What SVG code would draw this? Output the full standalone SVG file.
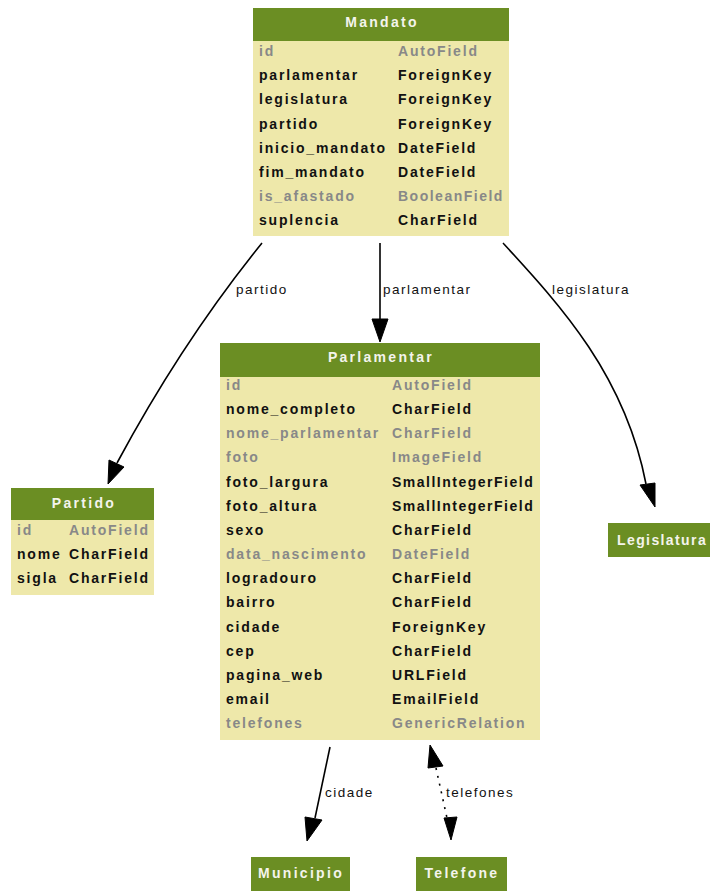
<svg xmlns="http://www.w3.org/2000/svg" width="710" height="891" viewBox="0 0 710 891">
<style>
.body{fill:#EEE8AA}
.hdr{fill:#6B8E23}
.ht{font-family:"Liberation Sans",Arial,sans-serif;font-weight:bold;font-size:14px;fill:#F4F4EC;letter-spacing:2.3px;text-anchor:middle}
.r{font-family:"Liberation Sans",Arial,sans-serif;font-weight:bold;font-size:14px;fill:#111;letter-spacing:1.8px}
.g{fill:#888}
.n{letter-spacing:1.5px}
.el{font-family:"Liberation Sans",Arial,sans-serif;font-size:13.5px;fill:#111;letter-spacing:1.5px}
.e{fill:none;stroke:#000;stroke-width:1.6}
.ah{fill:#000;stroke:#000;stroke-width:1}
</style>
<g id="connectors">
<path class="e" d="M262,243 C228,285 175,355 117,463"/>
<polygon class="ah" points="108,484 109,460 124,467"/>
<text class="el" x="236" y="294">partido</text>
<path class="e" d="M380,243 L380,320"/>
<polygon class="ah" points="380,342 372,319 388,319"/>
<text class="el" x="383" y="294">parlamentar</text>
<path class="e" d="M503,243 C560,305 625,375 646,484"/>
<polygon class="ah" points="655,507 640,485 655,483"/>
<text class="el" x="552" y="294">legislatura</text>
<path class="e" d="M330,747 L315,818"/>
<polygon class="ah" points="307,841 305,817 322,820"/>
<text class="el" x="325" y="797">cidade</text>
<path class="e" d="M436,768 L447,818" stroke-dasharray="2,6"/>
<polygon class="ah" points="430,745 428,768 443,766"/>
<polygon class="ah" points="451,840 444,818 457,817"/>
<text class="el" x="446" y="797">telefones</text>
</g>
<g id="Mandato">
<rect class="body" x="253" y="8" width="256" height="228"/>
<rect class="hdr" x="253" y="8" width="256" height="33"/>
<text class="ht" x="382" y="27">Mandato</text>
<text class="r g" x="259" y="56">id</text><text class="r g" x="398" y="56">AutoField</text>
<text class="r" x="259" y="80">parlamentar</text><text class="r" x="398" y="80">ForeignKey</text>
<text class="r" x="259" y="104">legislatura</text><text class="r" x="398" y="104">ForeignKey</text>
<text class="r" x="259" y="129">partido</text><text class="r" x="398" y="129">ForeignKey</text>
<text class="r" x="259" y="153">inicio_mandato</text><text class="r" x="398" y="153">DateField</text>
<text class="r" x="259" y="177">fim_mandato</text><text class="r" x="398" y="177">DateField</text>
<text class="r g" x="259" y="201">is_afastado</text><text class="r g n" x="398" y="201">BooleanField</text>
<text class="r" x="259" y="225">suplencia</text><text class="r" x="398" y="225">CharField</text>
</g>
<g id="Parlamentar">
<rect class="body" x="220" y="343" width="320" height="397"/>
<rect class="hdr" x="220" y="343" width="320" height="34"/>
<text class="ht" x="381" y="362">Parlamentar</text>
<text class="r g" x="226" y="390">id</text><text class="r g" x="392" y="390">AutoField</text>
<text class="r" x="226" y="414">nome_completo</text><text class="r" x="392" y="414">CharField</text>
<text class="r g" x="226" y="438">nome_parlamentar</text><text class="r g" x="392" y="438">CharField</text>
<text class="r g" x="226" y="462">foto</text><text class="r g" x="392" y="462">ImageField</text>
<text class="r" x="226" y="487">foto_largura</text><text class="r n" x="392" y="487">SmallIntegerField</text>
<text class="r" x="226" y="511">foto_altura</text><text class="r n" x="392" y="511">SmallIntegerField</text>
<text class="r" x="226" y="535">sexo</text><text class="r" x="392" y="535">CharField</text>
<text class="r g" x="226" y="559">data_nascimento</text><text class="r g" x="392" y="559">DateField</text>
<text class="r" x="226" y="583">logradouro</text><text class="r" x="392" y="583">CharField</text>
<text class="r" x="226" y="607">bairro</text><text class="r" x="392" y="607">CharField</text>
<text class="r" x="226" y="632">cidade</text><text class="r" x="392" y="632">ForeignKey</text>
<text class="r" x="226" y="656">cep</text><text class="r" x="392" y="656">CharField</text>
<text class="r" x="226" y="680">pagina_web</text><text class="r" x="392" y="680">URLField</text>
<text class="r" x="226" y="704">email</text><text class="r" x="392" y="704">EmailField</text>
<text class="r g" x="226" y="728">telefones</text><text class="r g" x="392" y="728">GenericRelation</text>
</g>
<g id="Partido">
<rect class="body" x="11" y="488" width="143" height="107"/>
<rect class="hdr" x="11" y="488" width="143" height="32"/>
<text class="ht" x="84" y="508">Partido</text>
<text class="r g" x="17" y="535">id</text><text class="r g" x="69" y="535">AutoField</text>
<text class="r" x="17" y="559">nome</text><text class="r" x="69" y="559">CharField</text>
<text class="r" x="17" y="583">sigla</text><text class="r" x="69" y="583">CharField</text>
</g>
<g id="Legislatura">
<rect class="hdr" x="608" y="523" width="110" height="34"/>
<text class="ht" x="617" y="545" style="text-anchor:start;letter-spacing:1.4px">Legislatura</text>
</g>
<g id="Municipio">
<rect class="hdr" x="251" y="857" width="99" height="40"/>
<text class="ht" x="301" y="878">Municipio</text>
</g>
<g id="Telefone">
<rect class="hdr" x="416" y="857" width="91" height="40"/>
<text class="ht" x="462" y="878">Telefone</text>
</g>
</svg>
